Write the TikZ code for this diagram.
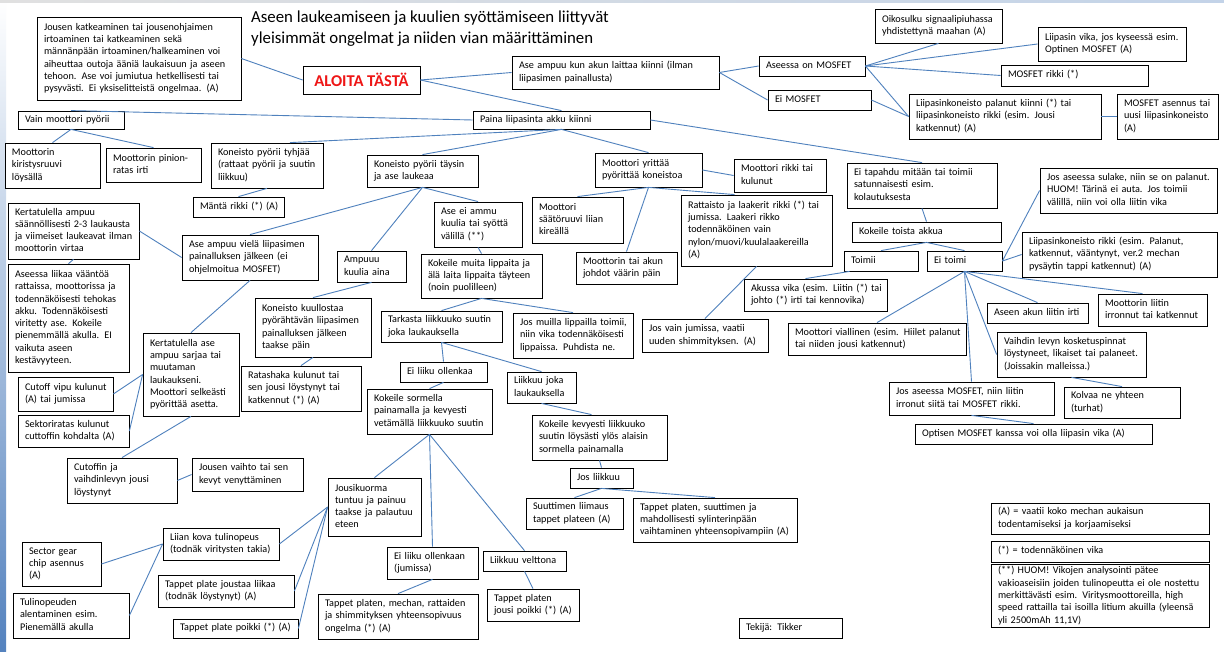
\documentclass[tikz,border=0pt]{standalone}
\usepackage{fontspec}
\setmainfont{Carlito}
\usetikzlibrary{calc}
\definecolor{lnk}{RGB}{79,129,189}
\definecolor{alred}{RGB}{238,22,22}
\definecolor{edgeblue}{RGB}{84,130,190}
\newcommand\tl[1]{\begin{tabular}{@{}l@{}}#1\end{tabular}}
\newcommand\bx[7][]{%
 \pgfmathsetmacro\bw{#5-#3}%
 \pgfmathsetmacro\bh{#6-#4}%
 \pgfmathsetmacro\tw{#5-#3-14}%
 \node[box,minimum width=\bw pt,minimum height=\bh pt,text width=\tw pt,#1] (#2) at ({(#3+#5)/2},{(#4+#6)/2}) {\tl{#7}};}
\tikzset{
 box/.style={draw=black,line width=0.8pt,fill=white,inner xsep=7pt,inner ysep=1pt,align=left,
   font=\fontsize{10.2}{12.3}\selectfont,text=black},
 lk/.style={draw=lnk,line width=0.9pt},
 ttl/.style={anchor=base west,inner sep=0pt,font=\fontsize{16.8}{20}\selectfont,text=black}
}
\begin{document}
\begin{tikzpicture}[x=1pt,y=-1pt]
\useasboundingbox (0,0) rectangle (1224,652);
\fill[white] (0,0) rectangle (1224,652);
\shade[top color=white,bottom color=edgeblue] (0,0) rectangle (6,652);
\shade[left color=black!12,right color=edgeblue!35] (0,0) rectangle (1224,3);

% title
\node[ttl] (t1) at (251,23) {Aseen laukeamiseen ja kuulien syöttämiseen liittyvät};
\node[ttl] (t2) at (251,43.5) {yleisimmät ongelmat ja niiden vian määrittäminen};

\node[draw=black,line width=0.8pt,fill=white,minimum width=117pt,minimum height=28pt,inner sep=0pt,
  font=\bfseries\fontsize{16.5}{18}\selectfont,text=alred] (aloita) at (361.5,80) {ALOITA TÄSTÄ};

\bx{b1}{37}{17}{241}{100}{Jousen katkeaminen tai jousenohjaimen\\irtoaminen tai katkeaminen sekä\\männänpään irtoaminen/halkeaminen voi\\aiheuttaa outoja ääniä laukaisuun ja aseen\\tehoon. Ase voi jumiutua hetkellisesti tai\\pysyvästi. Ei yksiselitteistä ongelmaa. (A)}
\bx{kun}{512}{56}{719}{89}{Ase ampuu kun akun laittaa kiinni (ilman\\liipasimen painallusta)}
\bx{mosfet}{759}{56}{865}{76}{Aseessa on MOSFET}
\bx{eimosfet}{768}{90}{871}{110}{Ei MOSFET}
\bx{oikosulku}{875}{9}{1002}{43}{Oikosulku signaalipiuhassa\\yhdistettynä maahan (A)}
\bx{liipvika}{1038}{27}{1186}{61}{Liipasin vika, jos kyseessä esim.\\Optinen MOSFET (A)}
\bx{mrikki}{1001}{65}{1148}{86}{MOSFET rikki (*)}
\bx{palanut}{909}{94}{1101}{139}{Liipasinkoneisto palanut kiinni (*) tai\\liipasinkoneisto rikki (esim. Jousi\\katkennut) (A)}
\bx{asennus}{1117}{94}{1218}{139}{MOSFET asennus tai\\uusi liipasinkoneisto\\(A)}
\bx{paina}{473}{111}{650}{129}{Paina liipasinta akku kiinni}
\bx{vain}{18}{111}{124}{129}{Vain moottori pyörii}
\bx{kiristys}{5}{143}{100}{188}{Moottorin\\kiristysruuvi\\löysällä}
\bx{pinion}{106}{148}{201}{182}{Moottorin pinion-\\ratas irti}
\bx{tyhjaa}{211}{143}{323}{188}{Koneisto pyörii tyhjää\\(rattaat pyörii ja suutin\\liikkuu)}
\bx{manta}{193}{197}{284}{217}{Mäntä rikki (*) (A)}
\bx{taysin}{367}{155}{478}{187}{Koneisto pyörii täysin\\ja ase laukeaa}
\bx{yrittaa}{595}{153}{702}{187}{Moottori yrittää\\pyörittää koneistoa}
\bx{mrikkitai}{734}{159}{826}{192}{Moottori rikki tai\\kulunut}
\bx{eitapahdu}{847}{163}{997}{208}{Ei tapahdu mitään tai toimii\\satunnaisesti esim.\\kolautuksesta}
\bx{sulake}{1040}{168}{1217}{213}{Jos aseessa sulake, niin se on palanut.\\HUOM! Tärinä ei auta. Jos toimii\\välillä, niin voi olla liitin vika}
\bx{sann}{8}{203}{139}{259}{Kertatulella ampuu\\säännöllisesti 2-3 laukausta\\ja viimeiset laukeavat ilman\\moottorin virtaa}
\bx{viela}{182}{235}{318}{280}{Ase ampuu vielä liipasimen\\painalluksen jälkeen (ei\\ohjelmoitua MOSFET)}
\bx{eiammu}{434}{202}{522}{247}{Ase ei ammu\\kuulia tai syöttä\\välillä (**)}
\bx{saato}{532}{197}{623}{243}{Moottori\\säätöruuvi liian\\kireällä}
\bx{rattaisto}{681}{195}{832}{266}{Rattaisto ja laakerit rikki (*) tai\\jumissa. Laakeri rikko\\todennäköinen vain\\nylon/muovi/kuulalaakereilla\\(A)}
\bx{toista}{852}{222}{1001}{242}{Kokeile toista akkua}
\bx{toimii}{844}{251}{918}{271}{Toimii}
\bx{eitoimi}{927}{251}{1002}{271}{Ei toimi}
\bx{liipkon}{1022}{232}{1217}{277}{Liipasinkoneisto rikki (esim. Palanut,\\katkennut, vääntynyt, ver.2 mechan\\pysäytin tappi katkennut) (A)}
\bx{vaantoa}{8}{264}{129}{372}{Aseessa liikaa vääntöä\\rattaissa, moottorissa ja\\todennäköisesti tehokas\\akku. Todennäköisesti\\viritetty ase. Kokeile\\pienemmällä akulla. EI\\vaikuta aseen\\kestävyyteen.}
\bx{ampuuu}{337}{251}{406}{282}{Ampuuu\\kuulia aina}
\bx{muita}{421}{254}{542}{298}{Kokeile muita lippaita ja\\älä laita lippaita täyteen\\(noin puolilleen)}
\bx{johdot}{576}{252}{677}{284}{Moottorin tai akun\\johdot väärin päin}
\bx{akussa}{744}{279}{887}{311}{Akussa vika (esim. Liitin (*) tai\\johto (*) irti tai kennovika)}
\bx{kuullostaa}{255}{298}{371}{357}{Koneisto kuullostaa\\pyörähtävän liipasimen\\painalluksen jälkeen\\taakse päin}
\bx{tarkasta}{381}{311}{502}{342}{Tarkasta liikkuuko suutin\\joka laukauksella}
\bx{muilla}{513}{313}{633}{358}{Jos muilla lippailla toimii,\\niin vika todennäköisesti\\lippaissa. Puhdista ne.}
\bx{jumissa}{642}{319}{768}{352}{Jos vain jumissa, vaatii\\uuden shimmityksen. (A)}
\bx{viallinen}{788}{323}{966}{355}{Moottori viallinen (esim. Hiilet palanut\\tai niiden jousi katkennut)}
\bx{akunliitin}{987}{303}{1088}{323}{Aseen akun liitin irti}
\bx{mliitin}{1098}{294}{1207}{326}{Moottorin liitin\\irronnut tai katkennut}
\bx{kertase}{143}{333}{239}{416}{Kertatulella ase\\ampuu sarjaa tai\\muutaman\\laukaukseni.\\Moottori selkeästi\\pyörittää asetta.}
\bx{ratashaka}{241}{366}{361}{411}{Ratashaka kulunut tai\\sen jousi löystynyt tai\\katkennut (*) (A)}
\bx{eiliiku}{400}{362}{487}{382}{Ei liiku ollenkaa}
\bx{joka}{507}{372}{576}{403}{Liikkuu joka\\laukauksella}
\bx{vaihdin}{997}{332}{1146}{377}{Vaihdin levyn kosketuspinnat\\löystyneet, likaiset tai palaneet.\\(Joissakin malleissa.)}
\bx{cutoff}{18}{377}{113}{411}{Cutoff vipu kulunut\\(A) tai jumissa}
\bx{sormella}{367}{389}{492}{434}{Kokeile sormella\\painamalla ja kevyesti\\vetämällä liikkuuko suutin}
\bx{mosfetliitin}{889}{382}{1054}{415}{Jos aseessa MOSFET, niin liitin\\irronut siitä tai MOSFET rikki.}
\bx{kolvaa}{1064}{387}{1180}{418}{Kolvaa ne yhteen\\(turhat)}
\bx{sektori}{18}{415}{129}{447}{Sektoriratas kulunut\\cuttoffin kohdalta (A)}
\bx{kevyesti}{532}{415}{667}{460}{Kokeile kevyesti liikkuuko\\suutin löysästi ylös alaisin\\sormella painamalla}
\bx[inner xsep=6pt]{optisen}{915}{424}{1152}{444}{Optisen MOSFET kanssa voi olla liipasin vika (A)}
\bx{cutoffjousi}{67}{458}{177}{503}{Cutoffin ja\\vaihdinlevyn jousi\\löystynyt}
\bx{vaihto}{192}{458}{303}{491}{Jousen vaihto tai sen\\kevyt venyttäminen}
\bx{josliikkuu}{570}{468}{633}{488}{Jos liikkuu}
\bx{jousikuorma}{328}{478}{421}{536}{Jousikuorma\\tuntuu ja painuu\\taakse ja palautuu\\eteen}
\bx{suuttimen}{526}{498}{623}{529}{Suuttimen liimaus\\tappet plateen (A)}
\bx{tpsuut}{633}{498}{797}{542}{Tappet platen, suuttimen ja\\mahdollisesti sylinterinpään\\vaihtaminen yhteensopivampiin (A)}
\bx{liiankova}{163}{528}{279}{560}{Liian kova tulinopeus\\(todnäk viritysten takia)}
\bx{sector}{22}{542}{101}{586}{Sector gear\\chip asennus\\(A)}
\bx{eiliikuan}{387}{547}{478}{579}{Ei liiku ollenkaan\\(jumissa)}
\bx{velttona}{483}{551}{566}{571}{Liikkuu velttona}
\bx{joustaa}{158}{575}{294}{607}{Tappet plate joustaa liikaa\\(todnäk löystynyt) (A)}
\bx{tulinop}{13}{593}{129}{638}{Tulinopeuden\\alentaminen esim.\\Pienemällä akulla}
\bx{poikki}{173}{619}{298}{638}{Tappet plate poikki (*) (A)}
\bx{mechan}{318}{594}{478}{639}{Tappet platen, mechan, rattaiden\\ja shimmityksen yhteensopivuus\\ongelma (*) (A)}
\bx{jousipoikki}{487}{589}{579}{621}{Tappet platen\\jousi poikki (*) (A)}
\bx{tekija}{739}{618}{842}{638}{Tekijä: Tikker}
\bx[inner xsep=2.5pt]{legA}{991}{503}{1209}{534}{(A) = vaatii koko mechan aukaisun\\todentamiseksi ja korjaamiseksi}
\bx[inner xsep=2.5pt]{legS}{991}{541}{1209}{562}{(*) = todennäköinen vika}
\bx[inner xsep=2.5pt]{legSS}{991}{565}{1209}{627}{(**) HUOM! Vikojen analysointi pätee\\vakioaseisiin joiden tulinopeutta ei ole nostettu\\merkittävästi esim. Viritysmoottoreilla, high\\speed rattailla tai isoilla litium akuilla (yleensä\\yli 2500mAh 11,1V)}

% connectors
\draw[lk] (b1.east) -- (aloita.west);
\draw[lk] (aloita.east) -- (kun.west);
\draw[lk] (aloita.east) -- (paina.north);
\draw[lk] (kun.east) -- (mosfet.west);
\draw[lk] (kun.east) -- (eimosfet.west);
\draw[lk] (mosfet.east) -- (oikosulku.south);
\draw[lk] (mosfet.east) -- (liipvika.west);
\draw[lk] (mosfet.east) -- (mrikki.west);
\draw[lk] (mosfet.east) -- (palanut.west);
\draw[lk] (eimosfet.east) -- (palanut.west);
\draw[lk] (palanut.east) -- (asennus.west);
\draw[lk] (vain.north) -- (paina.west);
\draw[lk] (paina.south) -- ([xshift=23pt]tyhjaa.north);
\draw[lk] (paina.south) -- (taysin.north);
\draw[lk] (paina.south) -- (yrittaa.north);
\draw[lk] (paina.east) -- (eitapahdu.north);
\draw[lk] (vain.south) -- (kiristys.north);
\draw[lk] (vain.south) -- (pinion.north);
\draw[lk] (tyhjaa.south) -- (manta.north);
\draw[lk] (taysin.south) -- (viela.north);
\draw[lk] (taysin.south) -- (ampuuu.north);
\draw[lk] (taysin.south) -- (eiammu.north);
\draw[lk] (yrittaa.south) -- (saato.north);
\draw[lk] (yrittaa.south) -- (johdot.north);
\draw[lk] (yrittaa.south) -- ([xshift=-22pt]rattaisto.north);
\draw[lk] (yrittaa.east) -- (mrikkitai.west);
\draw[lk] (rattaisto.south) -- (jumissa.north);
\draw[lk] (eiammu.south) -- (muita.north);
\draw[lk] (muita.south) -- (tarkasta.north);
\draw[lk] (muita.south) -- (muilla.north);
\draw[lk] (tarkasta.south) -- (eiliiku.north);
\draw[lk] (tarkasta.south) -- (joka.north);
\draw[lk] (eiliiku.south) -- (sormella.north);
\draw[lk] (sormella.south) -- (jousikuorma.north);
\draw[lk] (sormella.south) -- (eiliikuan.north);
\draw[lk] (sormella.south) -- (velttona.north);
\draw[lk] (joka.south) -- ([xshift=-8pt]kevyesti.north);
\draw[lk] (kevyesti.south) -- (josliikkuu.north);
\draw[lk] (josliikkuu.south) -- (suuttimen.north);
\draw[lk] (josliikkuu.south) -- (tpsuut.north);
\draw[lk] (velttona.south) -- (jousipoikki.north);
\draw[lk] (eiliikuan.south) -- (mechan.north);
\draw[lk] (jousikuorma.west) -- (liiankova.east);
\draw[lk] (jousikuorma.west) -- (joustaa.east);
\draw[lk] (jousikuorma.west) -- (poikki.east);
\draw[lk] (liiankova.west) -- (sector.east);
\draw[lk] (liiankova.west) -- (tulinop.east);
\draw[lk] (cutoffjousi.east) -- (vaihto.west);
\draw[lk] (kertase.south) -- (cutoffjousi.north);
\draw[lk] (kertase.west) -- (cutoff.east);
\draw[lk] (kertase.west) -- (sektori.east);
\draw[lk] (viela.south) -- (kertase.north);
\draw[lk] (viela.west) -- (sann.east);
\draw[lk] (sann.south) -- (vaantoa.north);
\draw[lk] (ampuuu.south) -- (kuullostaa.north);
\draw[lk] (kuullostaa.south) -- (ratashaka.north);
\draw[lk] (eitapahdu.south) -- (toista.north);
\draw[lk] (toista.south) -- (toimii.north);
\draw[lk] (toista.south) -- (eitoimi.north);
\draw[lk] ([xshift=6pt]toimii.south west) -- ([xshift=-10pt]akussa.north);
\draw[lk] (eitoimi.south) -- (viallinen.north);
\draw[lk] (eitoimi.south) -- (akunliitin.north);
\draw[lk] (eitoimi.south) -- ([xshift=-10pt]mliitin.north);
\draw[lk] (eitoimi.south) -- (vaihdin.west);
\draw[lk] (eitoimi.south) -- (mosfetliitin.north);
\draw[lk] (eitoimi.east) -- (sulake.west);
\draw[lk] (eitoimi.east) -- (liipkon.west);
\draw[lk] (vaihdin.south) -- (kolvaa.north);
\draw[lk] (mosfetliitin.south) -- (optisen.north);
\end{tikzpicture}
\end{document}
